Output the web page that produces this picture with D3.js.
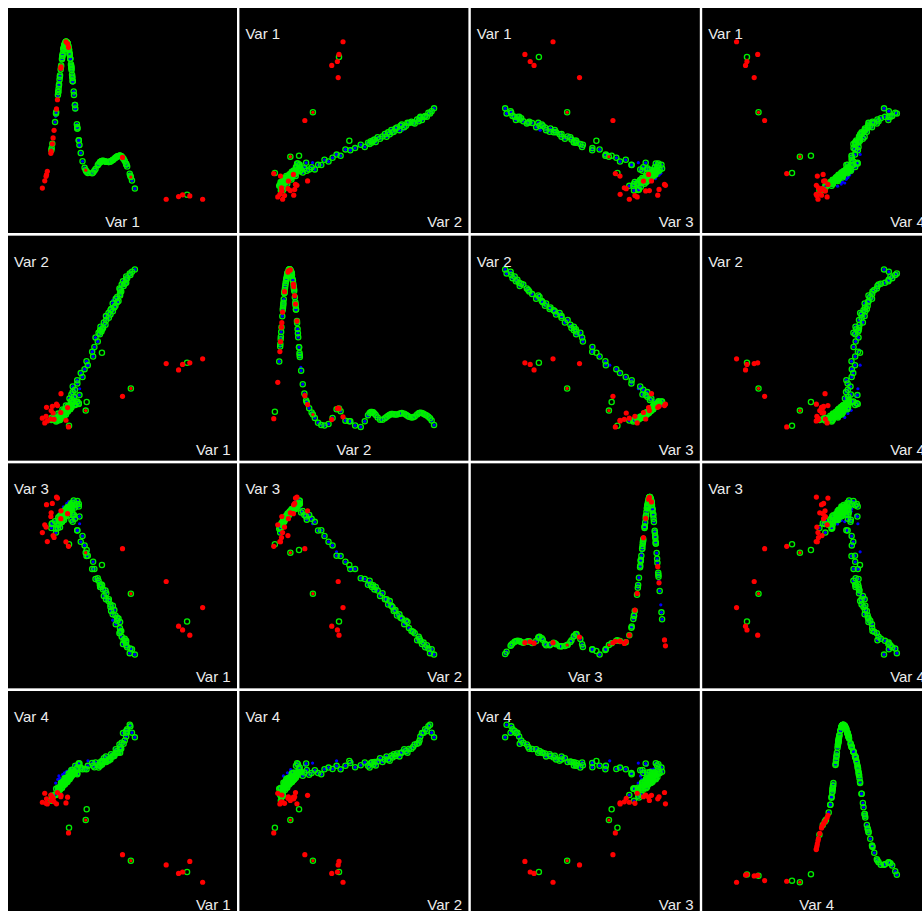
<!DOCTYPE html>
<html><head><meta charset="utf-8">
<script src="https://cdn.jsdelivr.net/npm/d3@7"></script>
<style>body{margin:0;background:#fff;overflow:hidden}</style>
</head><body><svg id="chart" width="922" height="911"></svg>
<script>
// Variable names
const varNames = ["Var 1", "Var 2", "Var 3", "Var 4"];

// Each point: [Var 1, Var 2, Var 3, Var 4] (0-100 units)
// Red filled points
const redPts = [
  [100,43.5,30,0],[92,41,12.5,13.2],[87.5,40,15.8,6.5],[85,36.5,18.2,5.6],[77.3,40.5,46.5,11],
  [50.1,19.8,67.3,17.5],[16.5,0.5,68.8,31.3],[11.8,21.5,91.3,55.2],
  [0.2,6.0,77.5,50.8],[1.7,3.0,82.4,56.5],[2.5,7.2,81.0,50.1],[2.8,12.9,95.2,53.0],[3.3,4.3,71.8,49.7],
  [5.5,5.5,87.7,55.4],[5.7,10.8,90.0,51.9],[6.4,13.5,96.0,54.3],[6.9,9.3,75.6,53.3],[7.5,5.3,74.4,51.1],
  [9.0,14.9,100,49.8],[9.6,14.0,99.4,57.0],[11.7,9.6,86.3,54.3],[15.9,12.7,89.5,54.0],[14.9,4.7,71.7,50.4]
];
// Green ring with red centre
const greenRedPts = [[27.2,10.8,64.8,39.5],[55.3,24.8,38.8,13.7]];
// Green ring, empty centre
const greenPts = [[90.3,41,21.2,6.5],[27.8,16.2,66.5,46.4],[16.8,1.2,70.1,34.6],[37.3,47.4,57,77]];
// Green ring with blue centre: dense core
const coreGreenBluePts = [
  [8.7,4.5,77.5,55.4],[8.8,3.9,80.0,59.3],[5.8,4.9,80.4,51.7],[9.9,4.6,80.4,59.7],[10.1,5.8,82.3,57.5],
  [6.4,5.3,83.5,53.8],[10.6,5.1,82.8,60.0],[6.0,6.3,83.0,55.0],[10.3,6.2,84.7,58.5],[8.1,6.1,84.7,55.8],
  [12.5,7.1,84.6,60.2],[11.8,6.5,86.1,63.2],[11.1,7.5,85.9,58.5],[12.7,7.2,85.5,63.3],[13.5,8.4,87.1,61.8],
  [10.9,7.9,87.9,59.7],[13.5,7.7,87.1,63.7],[10.1,8.9,87.0,60.2],[13.4,8.8,88.5,62.6],[11.6,8.7,88.5,60.4],
  [15.0,9.7,88.2,63.4],[14.0,9.1,89.6,66.1],[13.8,10.1,89.3,62.0],[14.9,9.8,88.8,66.1],[15.8,11.0,90.2,64.8],
  [13.5,10.5,91.0,63.0],[15.8,10.3,90.1,66.5],[12.7,11.5,90.0,63.5],[15.7,11.4,91.4,65.5],[14.0,11.3,91.3,63.5],
  [17.3,12.3,90.9,66.2],[16.6,11.7,92.3,69.1],[16.0,12.7,91.9,64.8],[17.6,12.4,91.4,69.3],[18.2,13.6,92.8,67.7],
  [15.8,13.1,93.6,65.8],[18.4,12.9,92.6,69.6],[14.9,14.1,92.4,66.3],[18.2,14.0,93.9,68.4],[16.3,13.9,93.7,66.3],
  [20.5,14.9,93.4,69.9],[20.7,14.3,94.8,74.0],[18.8,15.3,94.5,68.1],[22.9,15.0,94.0,75.6],[21.7,16.2,95.5,71.9],
  [18.7,15.7,96.4,69.2],[22.9,15.5,95.6,75.0],[18.0,16.7,95.7,69.9],[22.0,16.6,97.5,72.9],[19.7,16.5,97.9,70.2],
  [10.5,6.7,85.0,60.0],[11.2,4.8,80.9,59.2],[11.9,7.3,86.0,61.7],[12.4,6.4,84.2,59.9],[12.9,9.2,89.0,62.4],
  [13.3,8.1,87.4,64.1],[13.7,7.1,85.5,62.1],[14.0,10.5,90.6,64.2],[14.3,9.1,88.6,62.3],[14.6,10.3,90.2,63.9],
  [14.9,8.3,87.9,65.5],[15.2,11.8,92.0,63.8],[15.5,10.3,90.5,65.4],[15.8,11.7,91.6,63.6],[16.1,10.3,89.8,65.8],
  [16.4,13.0,93.3,65.6],[16.8,11.6,92.3,67.3],[17.2,13.2,94.0,65.4],[17.6,11.7,91.4,67.6],[18.1,14.3,95.0,66.8]
];
// Green ring with blue centre: the long trail
const trailGreenBluePts = [
  [18.9,17.5,90.3,70.0],[17.1,18.5,91.2,67.6],[19.9,19.5,88.7,69.7],[18.3,21,85.7,71.3],[19.1,22.5,88.7,68.3],
  [20.5,24,86.2,69.4],[19.1,26,84.3,71.1],[22.0,28,78.8,69.3],[21.9,30,79.0,68.5],[25.2,32,75.3,71.8],
  [24.1,34.5,71.7,72.8],[26.5,37,69.4,71.9],[28.5,39.5,62.9,73.9],[27.7,42,62.6,71.7],[31.8,45,59.0,74.0],
  [31.2,48,54.4,75.7],[32.6,51,54.5,73.0],[34.7,54.5,48.6,74.3],[33.3,57,48.1,76.1],
  [36.0,59,44.4,74.0],[35.2,60,47.0,72.9],[37.0,60.8,44.6,75.8],[36.2,61.5,43.0,76.2],[37.4,62.2,44.2,74.7],
  [38.0,63,41.5,76.4],[36.4,63.8,43.0,74.2],[39.5,65,40.8,76.7],[38.5,66.5,37.4,78.8],[40.0,68,39.1,76.4],
  [41.6,69.5,35.3,78.0],[39.8,70.5,35.3,79.9],[42.6,71.5,31.9,78.0],[41.4,72.5,34.1,77.1],[44.1,73.5,31.1,80.3],
  [43.0,75,27.9,81.3],[45.0,76,28.4,80.1],[45.7,77,25.0,81.8],[44.0,78.5,25.7,79.9],[47.6,80,23.0,82.4],
  [45.9,81.5,19.5,84.5],[42.6,74.2,30.4,79.2],[46.8,79.2,23.6,82.0],[46.8,82.6,21.6,83.4],
  [48.6,83.5,20.8,82.3],[48.5,84.4,17.0,84.6],[49.3,86,15.2,84.8],[48.6,87.0,14.6,85.9],[48.2,88,13.7,87.5],
  [50.8,89.5,9.3,87.9],[49.6,90.5,11.5,88.6],[51.5,91.0,10.2,90.0],
  [52.4,91.5,8.9,92.6],[50.4,92.5,6.9,94.7],[52.3,93.5,7.8,94.9],[53.0,94.5,4.8,97.1],[52.4,95.5,6.1,96.0],
  [55.0,96.5,4.0,99.0],[54.6,97.5,1.1,100],[56.0,98.5,3.6,95.0],[57.8,100,0.2,92.0],
  [23.3,20.6,87.7,75.4]
];
// Blue dots only
const bluePts = [
  [8.5,7.0,83.0,63.0],[9.8,8.4,85.2,65.3],[11.0,9.5,89.5,66.1],[12.8,10.2,91.4,68.4],[13.3,11.9,93.8,67.7],
  [15.4,12.8,95.9,70.4],[16.6,13.9,97.1,70.5],[18.3,15.4,95.6,72.6],[19.2,17.3,92.6,71.9],[20.8,19.8,88.4,74.3],
  [23.4,24.6,83.1,75.7],[28.6,39.5,65.3,77.1],[32.0,49.0,55.0,76.7],[14.0,9.0,88.0,69.5],[17.0,11.0,91.0,71.5],
  [10.5,6.5,84.5,67.5],[36.0,58.5,46.0,74.5],[44.0,80.5,22.0,81.5]
];
// Kernel bandwidth used for the diagonal density curves, per variable
const bandwidths = [3.0, 2.2, 2.0, 2.6];

const points = [];
bluePts.forEach(v => points.push({v, kind: "b"}));
coreGreenBluePts.forEach(v => points.push({v, kind: "gb"}));
trailGreenBluePts.forEach(v => points.push({v, kind: "gb"}));
greenPts.forEach(v => points.push({v, kind: "g"}));
greenRedPts.forEach(v => points.push({v, kind: "gr"}));
redPts.forEach(v => points.push({v, kind: "r"}));

const W = 229, H = 225, X0 = 8, Y0 = 8, PX = 231.4, PY = 227.67;
const padX = W * 0.15, padY = H * 0.15;
const nVar = 4;

const xs = [], ys = [], dens = [], dys = [];
for (let k = 0; k < nVar; k++) {
  const ext = d3.extent(points, p => p.v[k]);
  xs.push(d3.scaleLinear().domain(ext).range([padX, W - padX]));
  ys.push(d3.scaleLinear().domain(ext).range([H - padY, padY]));
  const h = bandwidths[k];
  const d = points.map(p => d3.sum(points, q => Math.exp(-0.5 * Math.pow((p.v[k] - q.v[k]) / h, 2))));
  dens.push(d);
  dys.push(d3.scaleLinear().domain(d3.extent(d)).range([H - padY, padY]));
}

const svg = d3.select("#chart");
svg.append("rect").attr("width", 922).attr("height", 911).attr("fill", "#fff");

const GREEN = "#00f000", RED = "#ff0000", BLUE = "#0000ff";
const font = "'Liberation Sans', Arial, sans-serif";

for (let i = 0; i < nVar; i++) {
  for (let j = 0; j < nVar; j++) {
    const g = svg.append("g").attr("transform", `translate(${X0 + j * PX},${Y0 + i * PY})`);
    g.append("rect").attr("width", W).attr("height", H).attr("fill", "#000");
    const px = (p) => xs[j](p.v[j]);
    const py = (p, idx) => i === j ? dys[i](dens[i][idx]) : ys[i](p.v[i]);
    const idxd = points.map((p, idx) => ({p, idx}));
    g.selectAll("circle.b").data(idxd.filter(d => d.p.kind === "b" || d.p.kind === "gb")).enter()
      .append("circle").attr("cx", d => px(d.p)).attr("cy", d => py(d.p, d.idx))
      .attr("r", 1.6).attr("fill", BLUE);
    g.selectAll("circle.g").data(idxd.filter(d => d.p.kind === "g" || d.p.kind === "gb" || d.p.kind === "gr")).enter()
      .append("circle").attr("cx", d => px(d.p)).attr("cy", d => py(d.p, d.idx))
      .attr("r", 2.6).attr("fill", "none").attr("stroke", GREEN).attr("stroke-width", 1.3);
    g.selectAll("circle.r").data(idxd.filter(d => d.p.kind === "r" || d.p.kind === "gr")).enter()
      .append("circle").attr("cx", d => px(d.p)).attr("cy", d => py(d.p, d.idx))
      .attr("r", d => d.p.kind === "r" ? 2.6 : 1.6).attr("fill", RED);
    if (i === j) {
      g.append("text").attr("x", W / 2).attr("y", H - 6).attr("text-anchor", "middle")
        .attr("font-family", font).attr("font-size", 15).attr("fill", "#ececec").text(varNames[i]);
    } else {
      g.append("text").attr("x", 6).attr("y", 31)
        .attr("font-family", font).attr("font-size", 15).attr("fill", "#ececec").text(varNames[i]);
      g.append("text").attr("x", W - 6.3).attr("y", H - 6).attr("text-anchor", "end")
        .attr("font-family", font).attr("font-size", 15).attr("fill", "#ececec").text(varNames[j]);
    }
  }
}
</script></body></html>
